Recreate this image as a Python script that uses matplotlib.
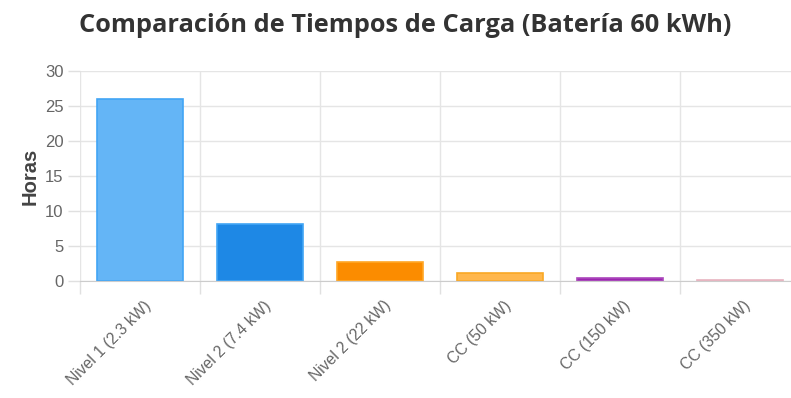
import numpy as np
import matplotlib.pyplot as plt

categories = ['Nivel 1 (2.3 kW)', 'Nivel 2 (7.4 kW)', 'Nivel 2 (22 kW)',
              'CC (50 kW)', 'CC (150 kW)', 'CC (350 kW)']
hours = [26.0, 8.1, 2.7, 1.2, 0.4, 0.17]
fill_colors = ['#64B5F6', '#1E88E5', '#FB8C00', '#FFB74D', '#9C27B0', '#F8BBD0']
edge_colors = ['#42A5F5', '#42A5F5', '#FFA726', '#F9A825', '#AB47BC', '#E8B4C0']

fig = plt.figure(figsize=(7.91, 3.98), dpi=100)
ax = fig.add_axes([80 / 791, 117 / 398, 720 / 791, 210 / 398])

x = np.arange(len(categories))
ax.bar(x, hours, width=0.72, color=fill_colors, edgecolor=edge_colors,
       linewidth=1.2, zorder=3)

ax.set_xlim(-0.5, len(categories) - 0.5)
ax.set_ylim(0, 30)
ax.set_yticks(range(0, 31, 5))

# labels sit a little right of the bar centre, chart.js style (no tick marks)
ax.set_xticks(x + 0.07)
ax.set_xticklabels(categories, rotation=45, ha='right', va='center',
                   rotation_mode='anchor', fontsize=11.3, color='#666666',
                   family='Liberation Sans')
# vertical grid lines at category boundaries
ax.set_xticks(np.arange(-0.5, len(categories), 1), minor=True)
ax.tick_params(axis='x', which='major', length=0, pad=16)
ax.tick_params(axis='x', which='minor', length=9, color='#e0e0e0', width=1)
ax.tick_params(axis='y', length=9, color='#e0e0e0', width=1, pad=3,
               labelsize=12, labelcolor='#666666')
for lbl in ax.get_yticklabels():
    lbl.set_family('Liberation Sans')

ax.grid(True, axis='y', color='#e5e5e5', linewidth=1, zorder=0)
ax.grid(True, axis='x', which='minor', color='#e5e5e5', linewidth=1, zorder=0)
for side in ['top', 'right', 'left']:
    ax.spines[side].set_visible(False)
ax.spines['bottom'].set_color('#cccccc')
ax.spines['bottom'].set_zorder(4)

ax.set_ylabel('Horas', fontsize=14.5, fontweight='bold', color='#444444',
              family='Liberation Sans', labelpad=4)

fig.text(405 / 791, 1 - 25 / 398, 'Comparación de Tiempos de Carga (Batería 60 kWh)',
         ha='center', va='center', fontsize=18.3, fontweight='bold',
         color='#333333', family='Open Sans')

fig.savefig('out.png', dpi=100)
